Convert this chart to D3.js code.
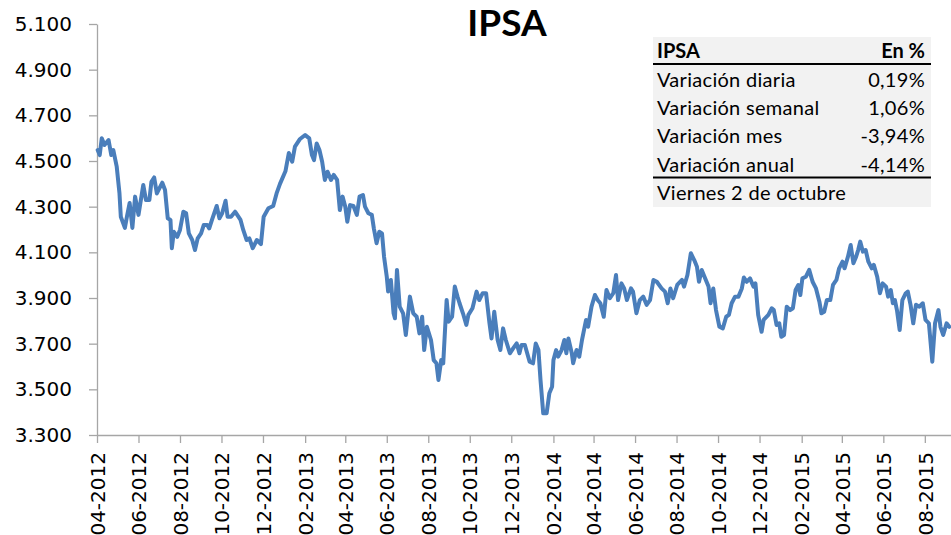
<!DOCTYPE html>
<html>
<head>
<meta charset="utf-8">
<script src="https://cdn.jsdelivr.net/npm/d3@7"></script>
<style>
body { margin: 0; background: #fff; }
svg { display: block; }
</style>
</head>
<body>
<div id="chart"></div>
<script>
// IPSA closing values, one date per value
var dates = [
	"2012-04-02","2012-04-05","2012-04-08","2012-04-12","2012-04-18","2012-04-22","2012-04-25","2012-04-30",
	"2012-05-04","2012-05-06","2012-05-12","2012-05-15","2012-05-19","2012-05-23","2012-05-27","2012-06-01",
	"2012-06-08","2012-06-12","2012-06-17","2012-06-20","2012-06-24","2012-06-28","2012-07-06","2012-07-10",
	"2012-07-14","2012-07-18","2012-07-20","2012-07-23","2012-07-28","2012-08-01","2012-08-06","2012-08-10",
	"2012-08-14","2012-08-19","2012-08-23","2012-08-27","2012-09-01","2012-09-05","2012-09-10","2012-09-13",
	"2012-09-17","2012-09-24","2012-09-28","2012-10-02","2012-10-07","2012-10-10","2012-10-15","2012-10-21",
	"2012-10-29","2012-11-02","2012-11-07","2012-11-11","2012-11-16","2012-11-22","2012-11-28","2012-12-02",
	"2012-12-09","2012-12-16","2012-12-21","2012-12-26",
	"2013-01-03","2013-01-08","2013-01-13","2013-01-17","2013-01-24","2013-02-01","2013-02-07","2013-02-11",
	"2013-02-14","2013-02-18","2013-02-22","2013-02-26","2013-03-02","2013-03-06","2013-03-11","2013-03-15",
	"2013-03-20","2013-03-24","2013-03-28","2013-04-01","2013-04-04","2013-04-08","2013-04-13","2013-04-18",
	"2013-04-22","2013-04-27","2013-04-30","2013-05-05","2013-05-10","2013-05-13","2013-05-17","2013-05-21",
	"2013-05-25","2013-05-28","2013-06-01","2013-06-03","2013-06-07","2013-06-11","2013-06-13","2013-06-16",
	"2013-06-20","2013-06-25","2013-06-29","2013-07-05","2013-07-10","2013-07-15","2013-07-19","2013-07-23",
	"2013-07-26","2013-07-30","2013-08-05","2013-08-09","2013-08-13","2013-08-16","2013-08-20","2013-08-23",
	"2013-08-28","2013-08-31","2013-09-05","2013-09-09","2013-09-13","2013-09-16","2013-09-21","2013-09-26",
	"2013-09-29","2013-10-05","2013-10-11","2013-10-15","2013-10-20","2013-10-25","2013-10-30","2013-11-02",
	"2013-11-06","2013-11-11","2013-11-15","2013-11-19","2013-11-23","2013-11-29","2013-12-04","2013-12-09",
	"2013-12-13","2013-12-16","2013-12-21","2013-12-28",
	"2014-01-02","2014-01-06","2014-01-10","2014-01-13","2014-01-17","2014-01-22","2014-01-26","2014-01-30",
	"2014-02-01","2014-02-05","2014-02-08","2014-02-13","2014-02-17","2014-02-20","2014-02-23","2014-02-28",
	"2014-03-02","2014-03-07","2014-03-11","2014-03-15","2014-03-18","2014-03-21","2014-03-24","2014-03-29",
	"2014-04-03","2014-04-07","2014-04-11","2014-04-16","2014-04-20","2014-04-25","2014-04-30","2014-05-04",
	"2014-05-07","2014-05-12","2014-05-16","2014-05-20","2014-05-26","2014-05-29","2014-06-03","2014-06-08",
	"2014-06-13","2014-06-18","2014-06-23","2014-06-28","2014-07-03","2014-07-10","2014-07-15","2014-07-19",
	"2014-07-23","2014-07-27","2014-08-02","2014-08-09","2014-08-12","2014-08-17","2014-08-22","2014-08-27",
	"2014-08-31","2014-09-03","2014-09-07","2014-09-12","2014-09-17","2014-09-20","2014-09-24","2014-09-28",
	"2014-10-03","2014-10-08","2014-10-13","2014-10-17","2014-10-21","2014-10-26","2014-10-31","2014-11-05",
	"2014-11-08","2014-11-12","2014-11-17","2014-11-22","2014-11-25","2014-11-29","2014-12-04","2014-12-07",
	"2014-12-14","2014-12-19","2014-12-22","2014-12-26","2014-12-30",
	"2015-01-02","2015-01-06","2015-01-10","2015-01-15","2015-01-19","2015-01-23","2015-01-27","2015-01-30",
	"2015-02-02","2015-02-07","2015-02-12","2015-02-17","2015-02-22","2015-02-27","2015-03-02","2015-03-06",
	"2015-03-10","2015-03-15","2015-03-19","2015-03-24","2015-03-28","2015-04-02","2015-04-05","2015-04-10",
	"2015-04-14","2015-04-18","2015-04-22","2015-04-25","2015-04-28","2015-05-02","2015-05-06","2015-05-10",
	"2015-05-15","2015-05-18","2015-05-23","2015-05-27","2015-05-31","2015-06-05","2015-06-08","2015-06-12",
	"2015-06-15","2015-06-18","2015-06-21","2015-06-25","2015-06-29","2015-07-04","2015-07-07","2015-07-11",
	"2015-07-15","2015-07-19","2015-07-24","2015-07-29","2015-08-02","2015-08-07","2015-08-12","2015-08-16",
	"2015-08-21","2015-08-24","2015-08-28","2015-09-02","2015-09-06"
];

var ipsa = [
	4548,4526,4600,4570,4592,4526,4548,4475,
	4360,4256,4207,4256,4316,4207,4344,4264,
	4395,4329,4329,4409,4428,4358,4405,4373,
	4249,4242,4118,4190,4168,4198,4278,4271,
	4183,4154,4110,4161,4183,4220,4220,4205,
	4242,4303,4249,4271,4326,4256,4256,4278,
	4242,4198,4154,4161,4118,4154,4136,4256,
	4293,4303,4358,4400,
	4455,4535,4497,4563,4595,4614,4599,4526,
	4504,4577,4548,4497,4417,4453,4417,4439,
	4417,4285,4344,4300,4234,4307,4303,4264,
	4344,4351,4300,4271,4264,4205,4140,4190,
	4183,4081,3993,3928,3979,3833,3811,4023,
	3862,3833,3738,3906,3833,3818,3745,3818,
	3672,3774,3716,3628,3614,3541,3628,3614,
	3891,3796,3818,3950,3906,3877,3833,3782,
	3826,3855,3928,3891,3921,3921,3789,3723,
	3840,3716,3672,3767,3716,3658,3680,3701,
	3658,3694,3694,3621,
	3614,3701,3672,3541,3395,3395,3483,3511,
	3628,3672,3643,3672,3716,3658,3723,3658,
	3614,3672,3643,3716,3760,3804,3774,3862,
	3913,3891,3877,3818,3935,3899,3921,4001,
	3891,3964,3942,3891,3942,3928,3833,3891,
	3906,3870,3891,3979,3971,3942,3928,3877,
	3942,3899,3957,3979,3950,4001,4096,4066,
	4037,3971,4023,3986,3950,3877,3942,3847,
	3774,3767,3818,3826,3877,3906,3906,3942,
	3990,3971,3986,3950,3964,3826,3752,3804,
	3826,3855,3847,3782,3789,
	3730,3738,3862,3847,3855,3935,3957,3913,
	3986,3993,4023,3971,3942,3884,3833,3840,
	3891,3891,3957,3979,4030,4059,4030,4081,
	4132,4052,4081,4110,4147,4103,4110,4059,
	4030,4045,3993,3921,3964,3950,3906,3935,
	3877,3891,3847,3760,3891,3921,3928,3870,
	3789,3870,3862,3877,3804,3789,3621,3789,
	3847,3774,3738,3789,3774
];

var yTicks = [3300, 3500, 3700, 3900, 4100, 4300, 4500, 4700, 4900, 5100];
var xTicks = ["2012-04-01","2012-06-01","2012-08-01","2012-10-01","2012-12-01",
	"2013-02-01","2013-04-01","2013-06-01","2013-08-01","2013-10-01","2013-12-01",
	"2014-02-01","2014-04-01","2014-06-01","2014-08-01","2014-10-01","2014-12-01",
	"2015-02-01","2015-04-01","2015-06-01","2015-08-01"];

var tableHead = ["IPSA", "En %"];
var tableLabels = ["Variación diaria", "Variación semanal", "Variación mes", "Variación anual"];
var tableValues = ["0,19%", "1,06%", "-3,94%", "-4,14%"];
var tableFoot = "Viernes 2 de octubre";

var width = 951,
	height = 535,
	margin = {top: 24, left: 97, bottom: 100};

var parseDate = d3.timeParse("%Y-%m-%d");
var data = dates.map(function(d, i) { return {date: parseDate(d), value: ipsa[i]}; });

// the picture is cut on the right: the axis runs on to 2 Oct 2015
var xScale = d3.scaleTime()
	.domain([parseDate("2012-04-01"), parseDate("2015-10-02")])
	.range([margin.left, 967]);
var yScale = d3.scaleLinear()
	.domain([3300, 5100])
	.range([height - margin.bottom, margin.top]);

var es = d3.formatLocale({decimal: ",", thousands: ".", grouping: [3], currency: ["$", ""]});

var svg = d3.select("#chart").append("svg")
	.attr("width", width)
	.attr("height", height);

var axisColor = "#a6a6a6";

// y axis
var yAxis = d3.axisLeft(yScale)
	.tickValues(yTicks)
	.tickSize(8)
	.tickSizeOuter(0)
	.tickPadding(17)
	.tickFormat(es.format(",.0f"));

var gy = svg.append("g")
	.attr("transform", "translate(" + margin.left + ",0)")
	.call(yAxis);
gy.selectAll("text").style("font-family", "DejaVu Sans").style("font-size", "20px").attr("fill", "#000");

// x axis
var xAxis = d3.axisBottom(xScale)
	.tickValues(xTicks.map(parseDate))
	.tickSize(8)
	.tickSizeOuter(0)
	.tickFormat(d3.timeFormat("%m-%Y"));

var gx = svg.append("g")
	.attr("transform", "translate(0," + (height - margin.bottom) + ")")
	.call(xAxis);
gx.selectAll("text")
	.attr("transform", "rotate(-90)")
	.attr("x", -17)
	.attr("y", 0)
	.attr("dy", "0.36em")
	.style("text-anchor", "end")
	.style("font-family", "DejaVu Sans")
	.style("font-size", "20px")
	.attr("fill", "#000");

svg.selectAll(".domain, .tick line").attr("stroke", axisColor).attr("stroke-width", 1.3);

// the line
var line = d3.line()
	.x(function(d) { return xScale(d.date); })
	.y(function(d) { return yScale(d.value); });

svg.append("path")
	.datum(data)
	.attr("d", line)
	.attr("fill", "none")
	.attr("stroke", "#4a7ebb")
	.attr("stroke-width", 4)
	.attr("stroke-linejoin", "round")
	.attr("stroke-linecap", "round");

// title
svg.append("text")
	.attr("x", 507)
	.attr("y", 36)
	.attr("text-anchor", "middle")
	.style("font-family", "Lato")
	.style("font-weight", "bold")
	.style("font-size", "37px")
	.text("IPSA");

// summary table
var tbl = svg.append("g")
	.style("font-family", "Lato")
	.style("font-size", "20px")
	.style("letter-spacing", "0.3px");
var tx0 = 653, tx1 = 931, tTop = 37;

tbl.append("rect")
	.attr("x", tx0).attr("y", tTop)
	.attr("width", tx1 - tx0).attr("height", 170)
	.attr("fill", "#f2f2f2");

tbl.append("text").attr("x", 657).attr("y", 58).style("font-weight", "bold").style("letter-spacing", "0px").text(tableHead[0]);
tbl.append("text").attr("x", 925).attr("y", 58).attr("text-anchor", "end").style("font-weight", "bold").style("letter-spacing", "0px").text(tableHead[1]);

tbl.selectAll("line.rule")
	.data([64, 177.5])
	.enter().append("line")
	.attr("class", "rule")
	.attr("x1", tx0).attr("x2", tx1)
	.attr("y1", function(d) { return d; })
	.attr("y2", function(d) { return d; })
	.attr("stroke", "#000")
	.attr("stroke-width", 2);

var rowY = [86.5, 115, 143.3, 171.7];
tbl.selectAll("text.lbl")
	.data(tableLabels)
	.enter().append("text")
	.attr("class", "lbl")
	.attr("x", 657)
	.attr("y", function(d, i) { return rowY[i]; })
	.text(function(d) { return d; });

tbl.selectAll("text.val")
	.data(tableValues)
	.enter().append("text")
	.attr("class", "val")
	.attr("x", 925)
	.attr("y", function(d, i) { return rowY[i]; })
	.attr("text-anchor", "end")
	.text(function(d) { return d; });

tbl.append("text").attr("x", 657).attr("y", 199.5).text(tableFoot);
</script>
</body>
</html>
